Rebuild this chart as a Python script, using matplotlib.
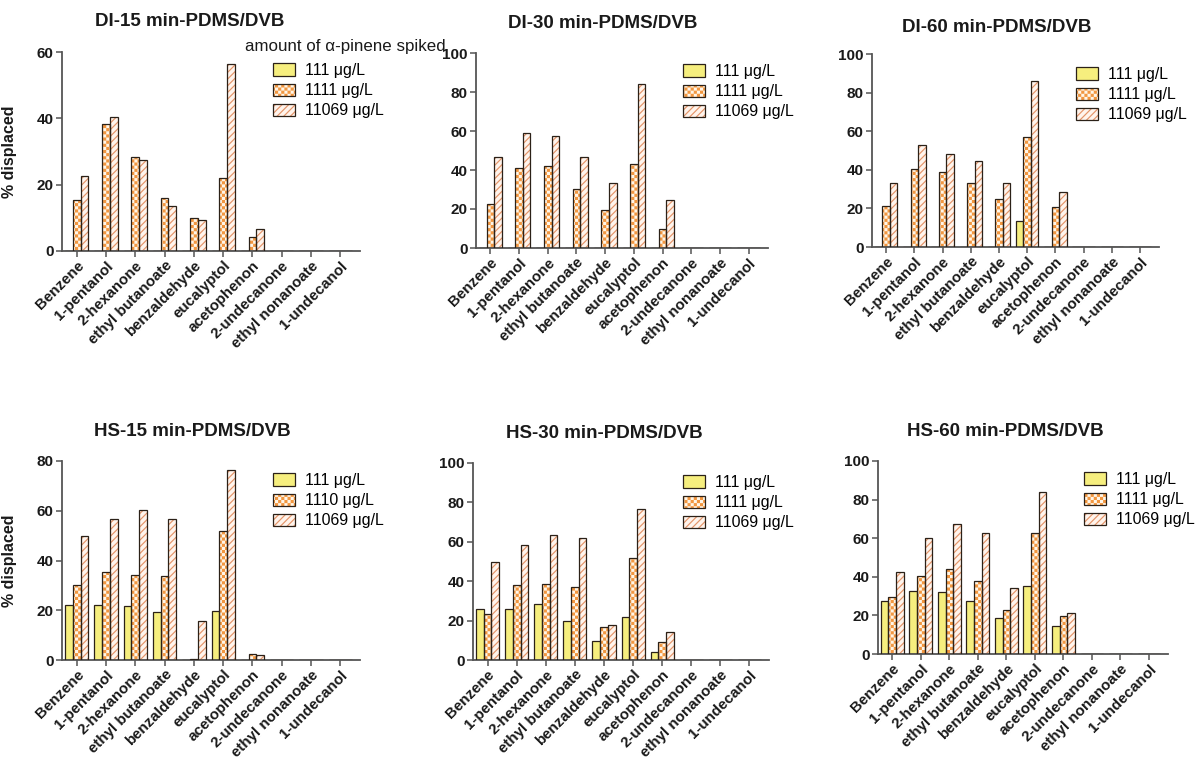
import warnings
import numpy as np
import matplotlib
matplotlib.use("Agg")
import matplotlib.pyplot as plt
import matplotlib.hatch as mhatch
from matplotlib.path import Path
from matplotlib.patches import Rectangle
from matplotlib.legend_handler import HandlerTuple

warnings.filterwarnings("ignore")

# ---------------------------------------------------------------- data
compounds = ["Benzene", "1-pentanol", "2-hexanone", "ethyl butanoate",
             "benzaldehyde", "eucalyptol", "acetophenon", "2-undecanone",
             "ethyl nonanoate", "1-undecanol"]

titles = ["DI-15 min-PDMS/DVB", "DI-30 min-PDMS/DVB", "DI-60 min-PDMS/DVB",
          "HS-15 min-PDMS/DVB", "HS-30 min-PDMS/DVB", "HS-60 min-PDMS/DVB"]

labels_default = ["111 \u03bcg/L", "1111 \u03bcg/L", "11069 \u03bcg/L"]
labels_hs15 = ["111 \u03bcg/L", "1110 \u03bcg/L", "11069 \u03bcg/L"]

# % displaced, per spiked alpha-pinene level
di15_low = [0, 0, 0, 0, 0, 0, 0, 0, 0, 0]
di15_mid = [15.5, 38.2, 28.2, 16.1, 10.0, 22.1, 4.3, 0, 0, 0]
di15_high = [22.6, 40.3, 27.4, 13.7, 9.3, 56.5, 6.7, 0, 0, 0]

di30_low = [0, 0, 0, 0, 0, 0, 0, 0, 0, 0]
di30_mid = [22.5, 40.9, 42.2, 30.5, 19.4, 43.3, 9.5, 0, 0, 0]
di30_high = [46.5, 59.1, 57.2, 46.8, 33.2, 84.3, 24.4, 0, 0, 0]

di60_low = [0, 0, 0, 0, 0, 13.3, 0, 0, 0, 0]
di60_mid = [21.1, 40.5, 38.8, 33.0, 25.1, 56.9, 20.6, 0, 0, 0]
di60_high = [33.2, 52.6, 48.1, 44.8, 33.0, 86.2, 28.5, 0, 0, 0]

hs15_low = [22.1, 22.1, 21.6, 19.2, 0, 19.6, 0, 0, 0, 0]
hs15_mid = [30.0, 35.4, 34.3, 33.8, 0.5, 51.7, 2.3, 0, 0, 0]
hs15_high = [49.7, 56.6, 60.3, 56.6, 15.5, 76.3, 2.1, 0, 0, 0]

hs30_low = [25.8, 25.8, 28.6, 19.7, 9.7, 21.9, 3.9, 0, 0, 0]
hs30_mid = [23.2, 38.3, 38.6, 37.1, 16.8, 51.7, 9.2, 0, 0, 0]
hs30_high = [49.7, 58.5, 63.6, 62.0, 17.8, 76.9, 14.1, 0, 0, 0]

hs60_low = [27.5, 32.8, 32.0, 27.5, 18.8, 35.4, 14.5, 0, 0, 0]
hs60_mid = [29.7, 40.4, 44.2, 37.8, 22.8, 62.5, 19.9, 0, 0, 0]
hs60_high = [42.5, 60.3, 67.2, 62.9, 34.4, 83.9, 21.4, 0, 0, 0]

y_max = [60, 100, 100, 80, 100, 100]


# ------------------------------------------------- checkerboard hatch
class CheckerHatch(mhatch.HatchPatternBase):
    """Filled checkerboard squares, selected with the 'c' hatch letter."""
    fill_ratio = 0.62

    def __init__(self, hatch, density):
        self.cells = 8 * hatch.count('c')
        self.num_vertices = (self.cells * self.cells // 2) * 5

    def set_vertices_and_codes(self, vertices, codes):
        n = self.cells
        step = 1.0 / n
        side = step * self.fill_ratio
        pad = (step - side) / 2
        square = np.array([[0, 0], [side, 0], [side, side],
                           [0, side], [0, 0]]) + pad
        code = [Path.MOVETO, Path.LINETO, Path.LINETO,
                Path.LINETO, Path.CLOSEPOLY]
        parts = [square + [i * step, j * step]
                 for i in range(n) for j in range(n) if (i + j) % 2 == 0]
        vertices[:] = np.concatenate(parts)
        codes[:] = np.tile(code, len(parts))


mhatch._hatch_types.append(CheckerHatch)

# ------------------------------------------------------------- styling
plt.rcParams["font.family"] = ["Liberation Sans", "DejaVu Sans"]
plt.rcParams["hatch.linewidth"] = 0.85

EDGE = "#2b2118"
TEXT = "#1a1a1a"
series_style = [
    dict(face="#f6ee7e", hatch=None, hcolor="#f6ee7e"),
    dict(face="#fff6e8", hatch="cccc", hcolor="#f2963f"),
    dict(face="#fff4ec", hatch="/////", hcolor="#e49468"),
]

fig = plt.figure(figsize=(11.95, 7.61), dpi=100)
W, H = 1195.0, 761.0

# axes boxes in pixels: left, right, top, bottom
boxes = [(62, 360, 52, 251), (476, 768, 53, 248), (872, 1159, 54, 247),
         (62, 360, 461, 660), (473, 769, 463, 660), (878, 1168, 461, 654)]
title_pos = [(190, 22), (603, 24), (997, 27), (192, 432), (604, 433), (1005, 432)]
legend_pos = [(273, 63), (683, 64), (1076, 67), (273, 473), (683, 475), (1084, 472)]

panel_data = [
    (di15_low, di15_mid, di15_high),
    (di30_low, di30_mid, di30_high),
    (di60_low, di60_mid, di60_high),
    (hs15_low, hs15_mid, hs15_high),
    (hs30_low, hs30_mid, hs30_high),
    (hs60_low, hs60_mid, hs60_high),
]

x = np.arange(len(compounds))
bw = 0.265
offsets = [-bw, 0.0, bw]

for k, (box, series) in enumerate(zip(boxes, panel_data)):
    l, r, t, b = box
    ax = fig.add_axes([l / W, 1 - b / H, (r - l) / W, (b - t) / H])

    for vals, off, st in zip(series, offsets, series_style):
        ax.bar(x + off, vals, bw, color=st["face"], edgecolor=st["hcolor"],
               linewidth=0, hatch=st["hatch"], zorder=2)
        ax.bar(x + off, vals, bw, fill=False, edgecolor=EDGE,
               linewidth=0.9, zorder=3)

    ax.set_xlim(-0.5, 9.67)
    ax.set_ylim(0, y_max[k])
    ax.set_yticks(np.arange(0, y_max[k] + 1, 20))
    ax.set_xticks(x)
    ax.set_xticklabels(compounds, rotation=45, ha="right", va="top",
                       rotation_mode="anchor", fontsize=10.9,
                       fontweight="bold", color=TEXT)
    for lab in ax.get_yticklabels():
        lab.set_fontweight("bold")
        lab.set_fontsize(11)
        lab.set_color(TEXT)

    for side in ("top", "right"):
        ax.spines[side].set_visible(False)
    for side in ("left", "bottom"):
        ax.spines[side].set_color("#555555")
        ax.spines[side].set_linewidth(1.3)
    ax.tick_params(axis="both", direction="out", length=4.5, width=1.1,
                   color="#555555", pad=1.5)
    ax.tick_params(axis="x", pad=1.0)
    ax.set_facecolor("none")

    if k in (0, 3):
        ax.set_ylabel("% displaced", fontsize=11.5, fontweight="bold",
                      color=TEXT)
        ax.yaxis.set_label_coords(-0.151, 0.5)

    tx, ty = title_pos[k]
    fig.text(tx / W, 1 - ty / H, titles[k], ha="center", va="center",
             fontsize=13.5, fontweight="bold", color=TEXT)

    handles = []
    for st in series_style:
        fill_patch = Rectangle((0, 0), 1, 1, facecolor=st["face"],
                               edgecolor=st["hcolor"], linewidth=0,
                               hatch=st["hatch"])
        edge_patch = Rectangle((0, 0), 1, 1, fill=False, edgecolor=EDGE,
                               linewidth=0.9)
        handles.append((fill_patch, edge_patch))
    lx, ly = legend_pos[k]
    labels = labels_hs15 if k == 3 else labels_default
    fig.legend(handles, labels, loc="upper left",
               bbox_to_anchor=(lx / W, 1 - ly / H),
               bbox_transform=fig.transFigure, frameon=False,
               fontsize=11.4, handlelength=1.4, handleheight=0.8,
               handletextpad=0.65, labelspacing=0.33, borderpad=0,
               borderaxespad=0,
               handler_map={tuple: HandlerTuple(ndivide=1, pad=0)})

fig.text(245 / W, 1 - 47 / H, "amount of \u03b1-pinene spiked",
         ha="left", va="center", fontsize=12.2, color=TEXT)

fig.savefig("out.png", dpi=100, facecolor="white")
